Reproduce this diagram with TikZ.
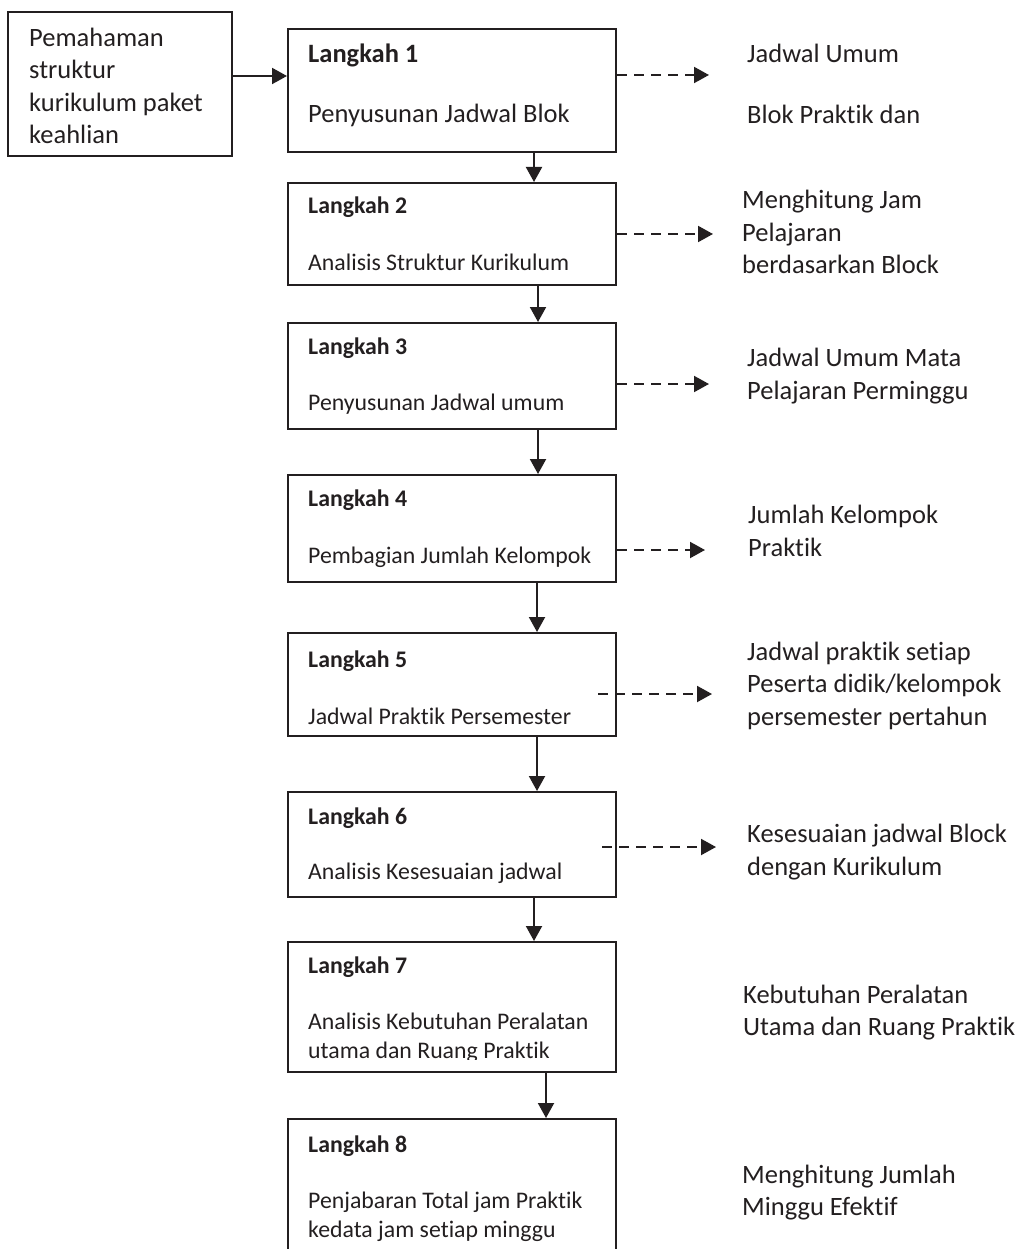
\documentclass[tikz,border=0pt]{standalone}
\usepackage{fontspec}
\setmainfont{Carlito}[Ligatures=NoCommon]
\usetikzlibrary{arrows.meta,calc}
\definecolor{ink}{HTML}{231F20}
\begin{document}
\begin{tikzpicture}[x=1pt,y=-1pt,
  stepbox/.style={draw=ink, line width=2pt, anchor=north west, inner sep=0pt,
    minimum width=328pt},
  srcbox/.style={draw=ink, line width=2pt, anchor=north west, inner sep=0pt,
    minimum width=224pt, minimum height=144pt},
  big/.style={anchor=base west, inner sep=0pt, text=ink, font=\fontsize{26.5}{30}\selectfont},
  head/.style={big, font=\fontsize{26.5}{30}\selectfont\bfseries},
  small/.style={anchor=base west, inner sep=0pt, text=ink, font=\fontsize{23.8}{28}\selectfont},
  smallhead/.style={small, font=\fontsize{23.8}{28}\selectfont\bfseries},
  flow/.style={draw=ink, line width=2pt, -{Triangle[length=15pt,width=16pt]}},
  result/.style={draw=ink, line width=2pt, dash pattern=on 10pt off 7pt,
    -{Triangle[length=15pt,width=16pt]}}]
\useasboundingbox (0,0) rectangle (1031,1249);
\clip (0,0) rectangle (1031,1249);

% starting point
\node[srcbox] (src) at (7,11) {};
\node[big] (src1) at (29,47) {Pemahaman};
\node[big] (src2) at (29,79) {struktur};
\node[big] (src3) at (29,112) {kurikulum paket};
\node[big] (src4) at (29,144) {keahlian};

% steps
\node[stepbox, minimum height=123pt] (s1) at (287,28) {};
\node[stepbox, minimum height=102pt] (s2) at (287,182) {};
\node[stepbox, minimum height=106pt] (s3) at (287,322) {};
\node[stepbox, minimum height=107pt] (s4) at (287,474) {};
\node[stepbox, minimum height=103pt] (s5) at (287,632) {};
\node[stepbox, minimum height=105pt] (s6) at (287,791) {};
\node[stepbox, minimum height=130pt] (s7) at (287,941) {};
\node[stepbox, minimum height=140pt] (s8) at (287,1118) {};

\node[head] (h1) at (308,63) {Langkah 1};
\node[big] (b1) at (308,123) {Penyusunan Jadwal Blok};
\node[smallhead] (h2) at (308,214) {Langkah 2};
\node[small] (b2) at (308,270) {Analisis Struktur Kurikulum};
\node[smallhead] (h3) at (308,354) {Langkah 3};
\node[small] (b3) at (308,410) {Penyusunan Jadwal umum};
\node[smallhead] (h4) at (308,506) {Langkah 4};
\node[small] (b4) at (308,563) {Pembagian Jumlah Kelompok};
\node[smallhead] (h5) at (308,667) {Langkah 5};
\node[small] (b5) at (308,724) {Jadwal Praktik Persemester};
\node[smallhead] (h6) at (308,824) {Langkah 6};
\node[small] (b6) at (308,879) {Analisis Kesesuaian jadwal};
\node[smallhead] (h7) at (308,973) {Langkah 7};
\node[small] (b7a) at (308,1029) {Analisis Kebutuhan Peralatan};
\begin{scope}
  \clip (287,941) rectangle (615,1059);
  \node[small] (b7b) at (308,1058) {utama dan Ruang Praktik};
\end{scope}
\node[smallhead] (h8) at (308,1152) {Langkah 8};
\node[small] (b8a) at (308,1208) {Penjabaran Total jam Praktik};
\node[small] (b8b) at (308,1237) {kedata jam setiap minggu};

% outputs
\node[big] (r1a) at (747,63) {Jadwal Umum};
\node[big] (r1b) at (747,124) {Blok Praktik dan};
\node[big] (r2a) at (742,209) {Menghitung Jam};
\node[big] (r2b) at (742,241) {Pelajaran};
\node[big] (r2c) at (742,273) {berdasarkan Block};
\node[big] (r3a) at (747,366) {Jadwal Umum Mata};
\node[big] (r3b) at (747,399) {Pelajaran Perminggu};
\node[big] (r4a) at (748,523) {Jumlah Kelompok};
\node[big] (r4b) at (748,556) {Praktik};
\node[big] (r5a) at (747,660) {Jadwal praktik setiap};
\node[big] (r5b) at (747,692) {Peserta didik/kelompok};
\node[big] (r5c) at (747,725) {persemester pertahun};
\node[big] (r6a) at (747,842) {Kesesuaian jadwal Block};
\node[big] (r6b) at (747,875) {dengan Kurikulum};
\node[big] (r7a) at (743,1003) {Kebutuhan Peralatan};
\node[big] (r7b) at (743,1035) {Utama dan Ruang Praktik};
\node[big] (r8a) at (742,1183) {Menghitung Jumlah};
\node[big] (r8b) at (742,1215) {Minggu Efektif};

% main flow
\draw[flow] ([yshift=8pt]src.east) -- ([yshift=8pt]src.east -| s1.west);
\draw[flow] ([xshift=82pt]s1.south) -- ([xshift=82pt]s2.north);
\draw[flow] ([xshift=86pt]s2.south) -- ([xshift=86pt]s3.north);
\draw[flow] ([xshift=86pt]s3.south) -- ([xshift=86pt]s4.north);
\draw[flow] ([xshift=85pt]s4.south) -- ([xshift=85pt]s5.north);
\draw[flow] ([xshift=85pt]s5.south) -- ([xshift=85pt]s6.north);
\draw[flow] ([xshift=82pt]s6.south) -- ([xshift=82pt]s7.north);
\draw[flow] ([xshift=94pt]s7.south) -- ([xshift=94pt]s8.north);

% results of each step
\coordinate (o1) at (709,75);
\coordinate (o2) at (713,234);
\coordinate (o3) at (709,384);
\coordinate (o4) at (705,550);
\coordinate (o5) at (712,694);
\coordinate (o6) at (716,847);
\draw[result] (s1.east |- o1) -- (o1);
\draw[result] (s2.east |- o2) -- (o2);
\draw[result] (s3.east |- o3) -- (o3);
\draw[result] (s4.east |- o4) -- (o4);
\draw[result] ($(s5.east |- o5)+(-19,0)$) -- (o5);
\draw[result] ($(s6.east |- o6)+(-15,0)$) -- (o6);
\end{tikzpicture}
\end{document}
